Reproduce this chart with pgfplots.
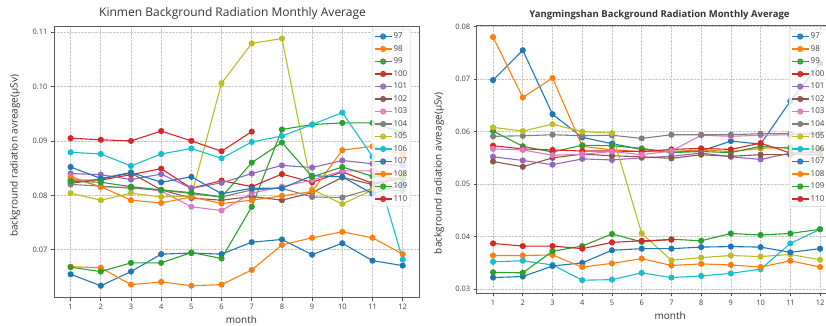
\documentclass[border=0pt]{standalone}
\usepackage{fontspec}
\setmainfont{Open Sans}
\usepackage{pgfplots}
\usepackage{pgfplotstable}
\pgfplotsset{compat=1.18}
\definecolor{c0}{HTML}{1F77B4}
\definecolor{c1}{HTML}{FF7F0E}
\definecolor{c2}{HTML}{2CA02C}
\definecolor{c3}{HTML}{D62728}
\definecolor{c4}{HTML}{9467BD}
\definecolor{c5}{HTML}{8C564B}
\definecolor{c6}{HTML}{E377C2}
\definecolor{c7}{HTML}{7F7F7F}
\definecolor{c8}{HTML}{BCBD22}
\definecolor{c9}{HTML}{17BECF}

\pgfplotstableread{
m  s97    s98    s99    s100   s101   s102   s103   s104   s105   s106   s107   s108   s109   s110
1  0.0655 0.0669 0.0668 0.0828 0.0840 0.0822 0.0835 0.0820 0.0804 0.0879 0.0852 0.0832 0.0826 0.0905
2  0.0634 0.0667 0.0660 0.0828 0.0838 0.0830 0.0815 0.0817 0.0791 0.0876 0.0831 0.0816 0.0824 0.0902
3  0.0660 0.0636 0.0676 0.0838 0.0829 0.0841 0.0815 0.0813 0.0804 0.0854 0.0842 0.0791 0.0816 0.0900
4  0.0692 0.0641 0.0676 0.0849 0.0839 0.0810 0.0808 0.0810 0.0797 0.0876 0.0824 0.0786 0.0810 0.0918
5  0.0694 0.0634 0.0695 0.0813 0.0813 0.0795 0.0779 0.0803 0.0799 0.0886 0.0834 0.0797 0.0805 0.0900
6  0.0692 0.0636 0.0684 0.0827 0.0823 0.0791 0.0772 0.0797 0.1006 0.0868 0.0803 0.0785 0.0797 0.0881
7  0.0714 0.0663 0.0779 0.0816 0.0840 0.0798 0.0804 0.0810 0.1079 0.0898 0.0813 0.0791 0.0860 0.0917
8  0.0719 0.0709 0.0921 0.0839 0.0855 0.0791 0.0816 0.0813 0.1088 0.0909 0.0813 0.0799 0.0897 nan
9  0.0691 0.0722 0.0930 0.0824 0.0851 0.0805 0.0828 0.0797 0.0811 0.0930 0.0836 0.0807 0.0834 nan
10 0.0712 0.0733 0.0933 0.0843 0.0864 0.0833 0.0845 0.0796 0.0784 0.0952 0.0834 0.0883 0.0852 nan
11 0.0680 0.0722 0.0933 0.0822 0.0858 0.0820 0.0845 0.0812 0.0810 0.0871 0.0803 0.0890 0.0835 nan
12 0.0671 0.0692 0.0915 0.0833 0.0855 0.0830 0.0840 0.0808 0.0838 0.0682 0.0820 0.0875 0.0830 nan
}\kinmen

\pgfplotstableread{
m  s97    s98    s99    s100   s101   s102   s103   s104   s105   s106   s107   s108   s109   s110
1  0.0698 0.0780 0.0601 0.0573 0.0552 0.0543 0.0567 0.0591 0.0608 0.0352 0.0322 0.0364 0.0332 0.0387
2  0.0755 0.0665 0.0572 0.0567 0.0545 0.0533 0.0565 0.0592 0.0601 0.0354 0.0324 0.0364 0.0331 0.0382
3  0.0633 0.0702 0.0561 0.0565 0.0537 0.0550 0.0555 0.0594 0.0614 0.0346 0.0344 0.0365 0.0372 0.0382
4  0.0589 0.0572 0.0574 0.0563 0.0548 0.0557 0.0557 0.0592 0.0600 0.0317 0.0350 0.0342 0.0382 0.0377
5  0.0577 0.0565 0.0573 0.0563 0.0546 0.0554 0.0562 0.0593 0.0597 0.0318 0.0374 0.0349 0.0405 0.0389
6  0.0566 0.0562 0.0568 0.0562 0.0550 0.0552 0.0556 0.0587 0.0406 0.0331 0.0377 0.0358 0.0390 0.0392
7  0.0562 0.0562 0.0560 0.0566 0.0553 0.0549 0.0563 0.0594 0.0355 0.0322 0.0377 0.0345 0.0395 0.0394
8  0.0563 0.0565 0.0562 0.0568 0.0559 0.0556 0.0593 0.0594 0.0360 0.0325 0.0380 0.0348 0.0392 nan
9  0.0582 0.0562 0.0560 0.0566 0.0552 0.0553 0.0591 0.0594 0.0364 0.0330 0.0381 0.0346 0.0406 nan
10 0.0576 0.0568 0.0572 0.0578 0.0547 0.0556 0.0593 0.0596 0.0362 0.0338 0.0380 0.0342 0.0403 nan
11 0.0658 0.0570 0.0568 0.0559 0.0559 0.0556 0.0594 0.0596 0.0366 0.0387 0.0370 0.0354 0.0406 nan
12 0.0730 0.0566 0.0567 0.0562 0.0560 0.0557 0.0595 0.0597 0.0356 0.0414 0.0377 0.0342 0.0414 nan
}\yms

\pgfplotsset{
  every axis title shift=0pt,
  mpl/.style={
    scale only axis,
    xmin=0.45, xmax=12.55,
    xtick={1,2,3,4,5,6,7,8,9,10,11,12},
    scaled ticks=false,
    grid=major,
    major grid style={gray!45, densely dotted, line width=0.6pt},
    axis line style={black!65, line width=0.8pt},
    tick align=outside, major tick length=3pt,
    tick style={black!70, line width=0.6pt},
    xtick pos=bottom, ytick pos=left,
    ticklabel style={font=\fontsize{7.5}{8.5}\selectfont, text=black!75},
    /pgf/number format/assume math mode=true,
    yticklabel style={/pgf/number format/.cd, fixed, fixed zerofill, precision=2, assume math mode=true},
    xlabel={month},
    ylabel={background radiation avreage(μSv)},
    label style={font=\fontsize{10}{12}\selectfont, text=black!80},
    unbounded coords=jump,
    every axis plot/.append style={line width=1.1pt, mark=*, mark size=2.5pt, mark options={solid}},
    legend cell align=left,
    legend style={anchor=north west, font=\fontsize{8}{9}\selectfont, text=black!75,
      draw=gray!35, fill=white, fill opacity=0.8, draw opacity=1, text opacity=1,
      rounded corners=2pt, inner xsep=2pt, inner ysep=2pt, row sep=1.9pt,
      nodes={inner sep=1.4pt, text height=6.2pt, text depth=1.6pt}},
  }
}

\newcommand{\allplots}[1]{%
  \addplot[c0] table[x=m,y=s97]{#1}; \addlegendentry{97}
  \addplot[c1] table[x=m,y=s98]{#1}; \addlegendentry{98}
  \addplot[c2] table[x=m,y=s99]{#1}; \addlegendentry{99}
  \addplot[c3] table[x=m,y=s100]{#1}; \addlegendentry{100}
  \addplot[c4] table[x=m,y=s101]{#1}; \addlegendentry{101}
  \addplot[c5] table[x=m,y=s102]{#1}; \addlegendentry{102}
  \addplot[c6] table[x=m,y=s103]{#1}; \addlegendentry{103}
  \addplot[c7] table[x=m,y=s104]{#1}; \addlegendentry{104}
  \addplot[c8] table[x=m,y=s105]{#1}; \addlegendentry{105}
  \addplot[c9] table[x=m,y=s106]{#1}; \addlegendentry{106}
  \addplot[c0] table[x=m,y=s107]{#1}; \addlegendentry{107}
  \addplot[c1] table[x=m,y=s108]{#1}; \addlegendentry{108}
  \addplot[c2] table[x=m,y=s109]{#1}; \addlegendentry{109}
  \addplot[c3] table[x=m,y=s110]{#1}; \addlegendentry{110}
}

\begin{document}
\begin{tikzpicture}
\begin{axis}[mpl,
  at={(54pt,27.3pt)}, anchor=south west,
  width=365.3pt, height=271.7pt,
  ymin=0.0612, ymax=0.1111,
  ytick={0.07,0.08,0.09,0.10,0.11},
  title={Kinmen Background Radiation Monthly Average},
  title style={at={(axis description cs:0.4887,1.048)}, anchor=center,
    font=\fontsize{12}{14}\selectfont, text=black!80},
  xlabel style={at={(axis description cs:0.513,-0.082)}, anchor=center},
  ylabel style={at={(axis description cs:-0.1068,0.522)}, anchor=center},
  legend style={at={(0.870,0.989)}},
]
\allplots{\kinmen}
\end{axis}
\begin{axis}[mpl,
  at={(476.7pt,31.7pt)}, anchor=south west,
  width=359.7pt, height=268.3pt,
  ymin=0.0292, ymax=0.0803,
  ytick={0.03,0.04,0.05,0.06,0.07,0.08},
  title={Yangmingshan Background Radiation Monthly Average},
  title style={at={(axis description cs:0.508,1.037)}, anchor=center,
    font=\bfseries\fontsize{9.5}{11}\selectfont, text=black!80},
  xlabel style={at={(axis description cs:0.538,-0.085)}, anchor=center},
  ylabel style={at={(axis description cs:-0.1048,0.448)}, anchor=center},
  legend style={at={(0.868,0.985)}},
]
\allplots{\yms}
\end{axis}
\pgfresetboundingbox
\path (0,0) rectangle (826pt,325pt);
\end{tikzpicture}
\end{document}
